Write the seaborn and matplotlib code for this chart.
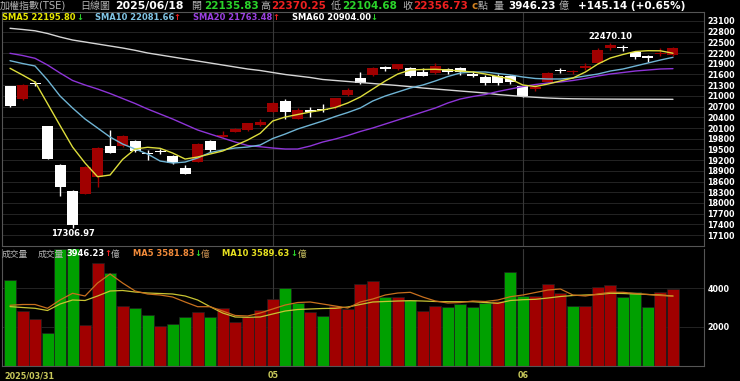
import numpy as np
import pandas as pd
import matplotlib
matplotlib.use("Agg")
import matplotlib.pyplot as plt
import seaborn as sns

# ---------------- data ----------------
dates = ['03/31', '04/01', '04/02', '04/07', '04/08', '04/09', '04/10', '04/11', '04/14', '04/15',
         '04/16', '04/17', '04/18', '04/21', '04/22', '04/23', '04/24', '04/25', '04/28', '04/29',
         '04/30', '05/02', '05/05', '05/06', '05/07', '05/08', '05/09', '05/12', '05/13', '05/14',
         '05/15', '05/16', '05/19', '05/20', '05/21', '05/22', '05/23', '05/26', '05/27', '05/28',
         '05/29', '06/02', '06/03', '06/04', '06/05', '06/06', '06/09', '06/10', '06/11', '06/12',
         '06/13', '06/16', '06/17', '06/18']

open_ = [21280, 20904, 21360, 20156, 19062, 18342, 18249, 18732, 19593, 19584,
         19744, 19400, 19450, 19315, 18992, 19155, 19749, 19860, 20000, 20030,
         20184, 20557, 20857, 20361, 20590, 20630, 20697, 21025, 21493, 21572,
         21790, 21754, 21790, 21678, 21633, 21746, 21790, 21606, 21538, 21566,
         21560, 21277, 21185, 21390, 21720, 21660, 21800, 21931, 22340, 22380,
         22239, 22110, 22180, 22135.83]
high = [21290, 21330, 21420, 20170, 19080, 18360, 19030, 19560, 20030, 19912,
        19760, 19480, 19520, 19330, 19057, 19670, 19760, 20025, 20090, 20240,
        20350, 20820, 20905, 20670, 20697, 20764, 20940, 21212, 21656, 21800,
        21847, 21895, 21800, 21774, 21914, 21774, 21819, 21698, 21586, 21614,
        21590, 21290, 21325, 21660, 21774, 21726, 21914, 22334, 22470.10, 22420,
        22250, 22147, 22330, 22370.25]
low = [20700, 20890, 21280, 19225, 18193, 17306.97, 18240, 18437, 19400, 19570,
       19440, 19202, 19360, 19080, 18800, 19140, 19435, 19850, 19990, 20020,
       20170, 20540, 20344, 20350, 20422, 20557, 20633, 21010, 21340, 21560,
       21698, 21724, 21516, 21550, 21620, 21606, 21586, 21538, 21305, 21305,
       21330, 20969, 21137, 21380, 21650, 21614, 21726, 21900, 22290, 22270,
       22026, 21959, 22110, 22104.68]
close = [20717, 21305, 21345, 19232, 18454, 17392, 19015, 19547, 19411, 19875,
         19469, 19380, 19435, 19127, 18810, 19651, 19497, 19905, 20063, 20231,
         20260, 20809, 20556, 20592, 20560, 20610, 20931, 21154, 21352, 21790,
         21770, 21886, 21566, 21566, 21846, 21673, 21660, 21572, 21352, 21352,
         21380, 20997, 21262, 21650, 21700, 21690, 21830, 22287, 22440, 22330,
         22099, 22080, 22211.59, 22356.73]

sma5 = [21774, 21586, 21390, 20784, 20170, 19567, 19118, 18734, 18782, 19219,
        19511, 19559, 19530, 19399, 19230, 19287, 19371, 19455, 19609, 19763,
        19951, 20296, 20408, 20478, 20548, 20604, 20675, 20801, 20969, 21193,
        21418, 21614, 21726, 21740, 21746, 21726, 21698, 21670, 21614, 21544,
        21474, 21305, 21263, 21333, 21418, 21502, 21670, 21894, 22063, 22161,
        22245, 22267, 22264, 22195.80]
sma10 = [21987, 21908, 21838, 21446, 20997, 20661, 20352, 20100, 19847, 19651,
         19511, 19371, 19174, 19118, 19146, 19259, 19413, 19483, 19539, 19567,
         19623, 19805, 19931, 20072, 20184, 20296, 20422, 20534, 20661, 20857,
         20997, 21109, 21221, 21305, 21418, 21544, 21642, 21670, 21670, 21628,
         21586, 21530, 21488, 21474, 21474, 21502, 21558, 21614, 21698, 21754,
         21838, 21922, 22006, 22081.66]
sma20 = [22194, 22133, 22054, 21866, 21642, 21432, 21305, 21193, 21067, 20927,
         20787, 20632, 20492, 20352, 20198, 20044, 19931, 19819, 19707, 19609,
         19575, 19539, 19511, 19511, 19595, 19707, 19791, 19889, 20002, 20100,
         20212, 20324, 20436, 20548, 20661, 20801, 20913, 20983, 21039, 21123,
         21193, 21263, 21319, 21362, 21390, 21432, 21488, 21558, 21614, 21656,
         21698, 21726, 21754, 21763.48]
sma60 = [22895, 22862, 22825, 22750, 22651, 22567, 22511, 22455, 22399, 22343,
         22278, 22203, 22147, 22091, 22034, 21978, 21922, 21866, 21810, 21754,
         21712, 21656, 21600, 21558, 21516, 21460, 21432, 21404, 21376, 21347,
         21319, 21291, 21258, 21221, 21193, 21165, 21137, 21109, 21081, 21039,
         21011, 20983, 20961, 20941, 20927, 20919, 20915, 20912, 20910, 20908,
         20907, 20906, 20905, 20904.00]

volume = [4410, 2805, 2427, 1675, 6000, 6200, 2120, 5300, 4786, 3094,
          2991, 2598, 2051, 2171, 2513, 2786, 2513, 2991, 2274, 2513,
          2872, 3419, 4000, 3214, 2786, 2564, 3077, 2906, 4188, 4376,
          3556, 3521, 3385, 2838, 3077, 3043, 3162, 3043, 3214, 3350,
          4838, 3607, 3607, 4205, 3727, 3094, 3094, 4068, 4154, 3521,
          3778, 3009, 3812, 3946.23]
vol_dir = ['G', 'R', 'R', 'G', 'G', 'G', 'R', 'R', 'G', 'R',
           'G', 'G', 'R', 'G', 'G', 'R', 'G', 'R', 'R', 'R',
           'R', 'R', 'G', 'G', 'R', 'G', 'R', 'R', 'R', 'R',
           'G', 'R', 'G', 'R', 'R', 'G', 'G', 'G', 'G', 'R',
           'G', 'G', 'R', 'R', 'R', 'G', 'R', 'R', 'R', 'G',
           'G', 'G', 'R', 'R']
vol_ma5 = [3113, 3154, 3154, 2959, 3385, 3728, 3590, 4256, 4718, 4256,
           3846, 3692, 3641, 3538, 3282, 3041, 3041, 2820, 2590, 2564,
           2718, 2923, 3128, 3256, 3282, 3179, 3077, 2974, 3282, 3436,
           3641, 3743, 3779, 3538, 3333, 3231, 3256, 3333, 3308, 3385,
           3554, 3641, 3769, 3897, 3949, 3641, 3590, 3692, 3779, 3779,
           3718, 3667, 3615, 3581.83]
vol_ma10 = [3046, 3000, 2959, 2846, 3179, 3385, 3359, 3590, 3846, 3872,
            3795, 3743, 3718, 3692, 3590, 3385, 3041, 2718, 2513, 2497,
            2513, 2667, 2820, 2897, 2923, 2949, 2959, 3026, 3154, 3282,
            3308, 3333, 3349, 3333, 3308, 3297, 3297, 3297, 3256, 3215,
            3359, 3400, 3420, 3487, 3564, 3615, 3641, 3667, 3728, 3718,
            3692, 3667, 3641, 3589.63]

price_ticks = [17100, 17400, 17700, 18000, 18300, 18600, 18900, 19200, 19500, 19800,
               20100, 20400, 20700, 21000, 21300, 21600, 21900, 22200, 22500, 22800, 23100]
price_tick_labels = ['17100', '17400', '17700', '18000', '18300', '18600', '18900', '19200',
                     '19500', '19800', '20100', '20400', '20700', '21000', '21300', '21600',
                     '21900', '22200', '22500', '22800', '23100']
vol_ticks = [2000, 4000]
vol_tick_labels = ['2000', '4000']

# ---------------- style ----------------
sns.set_style("dark")
plt.rcParams['font.family'] = ['DejaVu Sans', 'Noto Sans CJK TC']
plt.rcParams['axes.unicode_minus'] = False

RED = '#a00000'
WHITE = '#ffffff'
GRID = '#242424'
SPINE = '#555555'

W, H = 740, 381
fig = plt.figure(figsize=(W / 100, H / 100), dpi=100, facecolor='black')


def fx(px):
    return px / W


def fy(py):
    return 1 - py / H


ax1 = fig.add_axes([fx(2), fy(246), fx(704) - fx(2), fy(12) - fy(246)])
ax2 = fig.add_axes([fx(2), fy(366), fx(704) - fx(2), fy(249) - fy(366)])

idx = np.arange(len(dates))
o = np.array(open_, float)
h = np.array(high, float)
l = np.array(low, float)
c = np.array(close, float)

for ax in (ax1, ax2):
    ax.set_facecolor('black')
    for s in ax.spines.values():
        s.set_color(SPINE)
        s.set_linewidth(0.8)
    ax.set_xlim(-0.64, 55.48)
ax2.spines['top'].set_visible(False)

# month boundaries from dates (the first one sits under the full start-date label)
month_pos = [i for i in range(5, len(dates)) if dates[i][:2] != dates[i - 1][:2]]

# ---------- price panel ----------
ax1.set_ylim(16792, 23352)
for p in price_ticks:
    ax1.axhline(p, color=GRID, lw=0.7, zorder=0)
for m in month_pos:
    ax1.axvline(m, color='#383838', lw=0.8, zorder=0)

up = c >= o
cols = np.where(up, RED, WHITE)
ax1.vlines(idx, l, h, colors=cols, linewidth=1.0, zorder=2)
diff = np.abs(c - o)
min_h = 38
body_h = np.maximum(diff, min_h)
bottom = np.where(diff < min_h, (o + c) / 2 - min_h / 2, np.minimum(o, c))
ax1.bar(idx, body_h, bottom=bottom, width=0.88, color=cols, linewidth=0, zorder=3)

for vals, colr in [(sma60, '#d6d6d6'), (sma20, '#8e35d8'), (sma10, '#6fb4d4'), (sma5, '#dede3c')]:
    sns.lineplot(x=idx, y=vals, ax=ax1, color=colr, linewidth=1.0,
                 estimator=None, sort=False, zorder=4)

ax1.yaxis.tick_right()
ax1.set_yticks(price_ticks, price_tick_labels)
ax1.tick_params(axis='y', length=0, pad=2.5, labelsize=5.8, labelcolor='white')
for t in ax1.get_yticklabels():
    t.set_fontweight('bold')
ax1.set_xticks([])
ax1.set_xlabel('')
ax1.set_ylabel('')
ax1.grid(False)

hi_i = int(np.argmax(h))
lo_i = int(np.argmin(l))
ax1.annotate(f'{h[hi_i]:.2f}', xy=(hi_i, h[hi_i]), xytext=(0, 5), textcoords='offset points',
             ha='center', va='center', color='white', fontsize=6, fontweight='bold', zorder=6)
ax1.annotate(f'{l[lo_i]:.2f}', xy=(lo_i, l[lo_i]), xytext=(0, -4), textcoords='offset points',
             ha='center', va='center', color='white', fontsize=6, fontweight='bold', zorder=6)

# ---------- volume panel ----------
for v in vol_ticks:
    ax2.axhline(v, color=GRID, lw=0.7, zorder=0)
for m in month_pos:
    ax2.axvline(m, color='#383838', lw=0.8, zorder=0)

vdf = pd.DataFrame({'idx': idx, 'vol': volume, 'dir': vol_dir})
sns.barplot(data=vdf, x='idx', y='vol', hue='dir', palette={'R': '#a00000', 'G': '#00a000'},
            native_scale=True, width=0.96, dodge=False, legend=False, saturation=1,
            errorbar=None, linewidth=0.5, edgecolor='#202020', ax=ax2, zorder=2)
sns.lineplot(x=idx, y=vol_ma10, ax=ax2, color='#c8c432', linewidth=0.9,
             estimator=None, sort=False, zorder=4)
sns.lineplot(x=idx, y=vol_ma5, ax=ax2, color='#c8701e', linewidth=0.9,
             estimator=None, sort=False, zorder=4)

ax2.set_xlim(-0.64, 55.48)
ax2.set_ylim(0, 6000)
ax2.yaxis.tick_right()
ax2.set_yticks(vol_ticks, vol_tick_labels)
ax2.tick_params(axis='y', length=0, pad=2.5, labelsize=5.8, labelcolor='white')
for t in ax2.get_yticklabels():
    t.set_fontweight('bold')

ax2.set_xticks(month_pos, [dates[m][:2] for m in month_pos])
ax2.set_xticks([0], minor=True)
ax2.tick_params(axis='x', which='both', length=2.5, width=0.8, color='#888888', pad=1.2,
                labelsize=5.8, labelcolor='#c8c85a')
ax2.tick_params(axis='x', which='minor', labelbottom=False)
for t in ax2.get_xticklabels():
    t.set_fontweight('bold')
ax2.set_xlabel('')
ax2.set_ylabel('')
ax2.grid(False)


# ---------- header texts ----------
def txt(xp, yp, s, color, size=7.5, bold=True):
    fig.text(fx(xp), fy(yp), s, color=color, fontsize=size,
             fontweight='bold' if bold else 'normal', ha='left', va='center', zorder=10)


# first date label on the time axis
txt(4, 376, '2025/' + dates[0], '#c8c85a', 5.8)

GRAY = '#b4b4b4'
GREEN = '#2ad42a'
HRED = '#ee2020'
txt(0, 6, '加權指數(TSE)', GRAY, 7.2, False)
txt(80, 6, '日線圖', GRAY, 7.2, False)
txt(115, 6, '2025/06/18', 'white', 7.8)
txt(191, 6, '開', GRAY, 7.2, False)
txt(204, 6, f'{open_[-1]:.2f}', GREEN, 7.5)
txt(260, 6, '高', GRAY, 7.2, False)
txt(271, 6, f'{high[-1]:.2f}', HRED, 7.5)
txt(331, 6, '低', GRAY, 7.2, False)
txt(342, 6, f'{low[-1]:.2f}', GREEN, 7.5)
txt(402, 6, '收', GRAY, 7.2, False)
txt(413, 6, f'{close[-1]:.2f}', HRED, 7.5)
txt(471, 6, 'c', '#d08020', 7.5)
txt(478, 6, '點', GRAY, 7.2, False)
txt(493, 6, '量', GRAY, 7.2, False)
txt(508, 6, f'{volume[-1]:.2f}', 'white', 7.5)
txt(559, 6, '億', GRAY, 7.2, False)
chg = close[-1] - close[-2]
txt(578, 6, f'+{chg:.2f} (+{chg / close[-2] * 100:.2f}%)', 'white', 7.5)

txt(2, 17, f'SMA5 {sma5[-1]:.2f}', '#e6e600', 6)
txt(76, 17, '↓', GREEN, 6)
txt(95, 17, f'SMA10 {sma10[-1]:.2f}', '#80c4e4', 6)
txt(173, 17, '↑', HRED, 6)
txt(193, 17, f'SMA20 {sma20[-1]:.2f}', '#9a40e0', 6)
txt(272, 17, '↑', HRED, 6)
txt(292, 17, f'SMA60 {sma60[-1]:.2f}', 'white', 6)
txt(370, 17, '↓', GREEN, 6)

txt(2, 254, '成交量', GRAY, 6.3, False)
txt(38, 254, '成交量', GRAY, 6.3, False)
txt(66, 254, f'{volume[-1]:.2f}', 'white', 6)
txt(104, 254, '↑', HRED, 6)
txt(111, 254, '億', GRAY, 6.3, False)
txt(133, 254, f'MA5 {vol_ma5[-1]:.2f}', '#f08a3a', 6)
txt(194, 254, '↓', GREEN, 6)
txt(201, 254, '億', '#c89050', 6.3, False)
txt(222, 254, f'MA10 {vol_ma10[-1]:.2f}', '#e6e020', 6)
txt(290, 254, '↓', GREEN, 6)
txt(298, 254, '億', '#c8c060', 6.3, False)

fig.savefig('out.png', dpi=100, facecolor='black')
